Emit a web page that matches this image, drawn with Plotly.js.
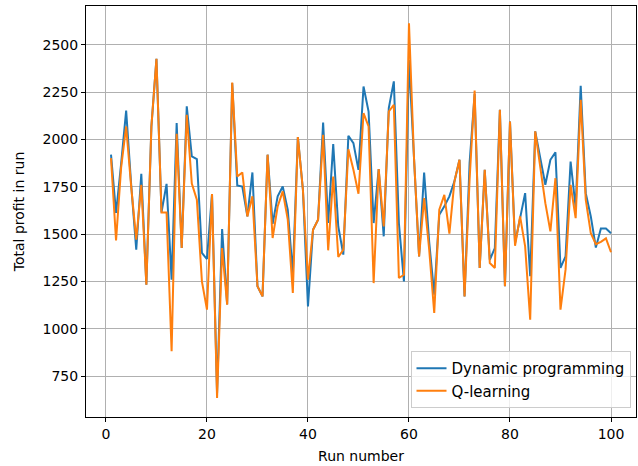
<!DOCTYPE html>
<html>
<head>
<meta charset="utf-8">
<script src="https://cdn.plot.ly/plotly-3.0.1.min.js"></script>
<style>html,body{margin:0;padding:0;background:#fff;}#chart{width:638px;height:466px;}</style>
</head>
<body>
<div id="chart"></div>
<script>
const runs = Array.from({length: 100}, (_, i) => i + 1);
const dpProfit = [
  1920, 1612, 1870, 2153, 1760, 1418, 1819, 1234, 2069, 2426,
  1615, 1766, 1260, 2087, 1427, 2175, 1911, 1897, 1401, 1369,
  1712, 660, 1527, 1130, 2298, 1758, 1752, 1594, 1826, 1225,
  1172, 1920, 1555, 1700, 1752, 1629, 1290, 2013, 1735, 1119,
  1524, 1577, 2090, 1559, 1976, 1541, 1392, 2020, 1981, 1840,
  2280, 2148, 1559, 1844, 1489, 2166, 2307, 1559, 1251, 2420,
  1900, 1383, 1826, 1460, 1181, 1603, 1647, 1700, 1779, 1893,
  1172, 1876, 2240, 1322, 1840, 1365, 1427, 2157, 1225, 2095,
  1453, 1594, 1717, 1278, 2043, 1902, 1761, 1893, 1932, 1322,
  1383, 1884, 1640, 2284, 1717, 1594, 1430, 1530, 1530, 1505
];
const qProfit = [
  1902, 1467, 1850, 2069, 1750, 1471, 1761, 1234, 2069, 2426,
  1615, 1615, 882, 2030, 1427, 2131, 1767, 1682, 1251, 1102,
  1712, 635, 1427, 1128, 2301, 1805, 1826, 1594, 1700, 1225,
  1172, 1920, 1480, 1647, 1726, 1577, 1190, 2013, 1735, 1260,
  1524, 1577, 2025, 1415, 1805, 1380, 1418, 1949, 1840, 1714,
  2139, 2069, 1242, 1844, 1541, 2148, 2183, 1269, 1286, 2614,
  1900, 1383, 1691, 1420, 1084, 1629, 1708, 1503, 1779, 1893,
  1172, 1788, 2259, 1322, 1840, 1348, 1322, 2157, 1225, 2095,
  1439, 1594, 1436, 1049, 2043, 1858, 1664, 1515, 1796, 1102,
  1313, 1761, 1585, 2210, 1682, 1505, 1447, 1460, 1478, 1405
];
const seriesNames = ['Dynamic programming', 'Q-learning'];
const xTicks = [0, 20, 40, 60, 80, 100];
const yTicks = [750, 1000, 1250, 1500, 1750, 2000, 2250, 2500];

const traces = [
  {x: runs, y: dpProfit, type: 'scatter', mode: 'lines', name: seriesNames[0],
   line: {color: '#1f77b4', width: 2}},
  {x: runs, y: qProfit, type: 'scatter', mode: 'lines', name: seriesNames[1],
   line: {color: '#ff7f0e', width: 2}}
];
const axisCommon = {
  showgrid: true, gridcolor: '#b0b0b0', gridwidth: 1,
  showline: true, linecolor: '#000', linewidth: 1, mirror: true,
  ticks: 'outside', ticklen: 4, tickcolor: '#000', tickwidth: 1,
  zeroline: false, tickfont: {size: 14, color: '#000'}
};
const layout = {
  width: 638, height: 466,
  margin: {l: 86, r: 2, t: 6, b: 49},
  paper_bgcolor: '#fff', plot_bgcolor: '#fff',
  font: {family: 'DejaVu Sans', size: 14, color: '#000'},
  showlegend: true,
  legend: {x: 0.99, y: 0.022, xanchor: 'right', yanchor: 'bottom',
    bgcolor: 'rgba(255,255,255,0.8)', bordercolor: '#cccccc', borderwidth: 1,
    font: {size: 15}, tracegroupgap: 0},
  xaxis: Object.assign({}, axisCommon, {
    range: [-3.95, 104.95], tickvals: xTicks,
    title: {text: 'Run number', font: {size: 14}, standoff: 10}
  }),
  yaxis: Object.assign({}, axisCommon, {
    range: [535, 2705], tickvals: yTicks,
    title: {text: 'Total profit in run', font: {size: 14}, standoff: 14}
  })
};
Plotly.newPlot('chart', traces, layout, {displayModeBar: false, staticPlot: true});
</script>
</body>
</html>
